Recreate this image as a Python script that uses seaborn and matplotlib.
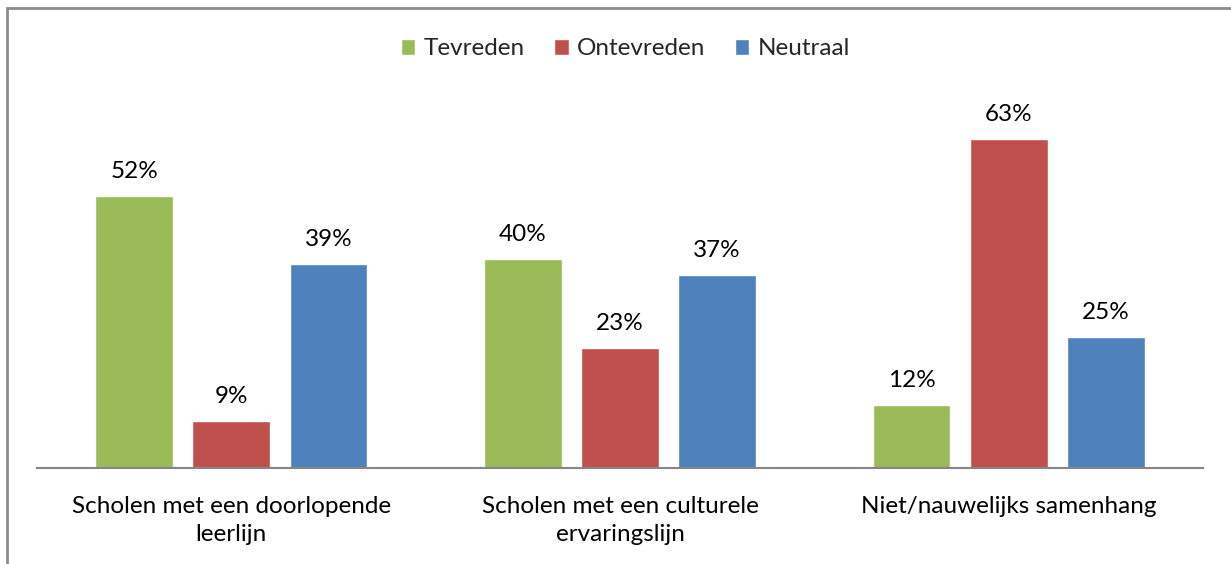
import matplotlib
matplotlib.use("Agg")
import matplotlib.pyplot as plt
from matplotlib.patches import Rectangle
import seaborn as sns
import pandas as pd

categories = ["Scholen met een doorlopende\nleerlijn",
              "Scholen met een culturele\nervaringslijn",
              "Niet/nauwelijks samenhang"]
series = ["Tevreden", "Ontevreden", "Neutraal"]
tevreden = [52, 40, 12]
ontevreden = [9, 23, 63]
neutraal = [39, 37, 25]
colors = ["#9BBB59", "#C0504D", "#4F81BD"]

rows = []
for name, vals in zip(series, [tevreden, ontevreden, neutraal]):
    for cat, v in zip(categories, vals):
        rows.append({"categorie": cat, "reeks": name, "waarde": v})
df = pd.DataFrame(rows)

sns.set_theme(style="white")
plt.rcParams["font.family"] = ["Lato", "DejaVu Sans"]
FS = 17.5

fig = plt.figure(figsize=(12.31, 5.64), dpi=100)
ax = fig.add_axes([37 / 1231, 1 - 468 / 564, (1203 - 37) / 1231, (468 - 102) / 564])

sns.barplot(data=df, x="categorie", y="waarde", hue="reeks",
            order=categories, hue_order=series, palette=colors,
            width=0.75, gap=0.2, saturation=1, ax=ax, legend=True)

for container in ax.containers:
    ax.bar_label(container, labels=[f"{int(v)}%" for v in container.datavalues],
                 padding=10, fontsize=FS, color="#000000")

ax.set_ylim(0, 70)
ax.set_xlim(-0.5, 2.5)
ax.set_xlabel("")
ax.set_ylabel("")
ax.set_yticks([])
ax.tick_params(axis="x", length=0, pad=20, labelsize=FS, labelcolor="#000000")
for lbl in ax.get_xticklabels():
    lbl.set_multialignment("center")
    lbl.set_linespacing(1.45)
for s in ["top", "right", "left"]:
    ax.spines[s].set_visible(False)
ax.spines["bottom"].set_color("#868686")
ax.spines["bottom"].set_linewidth(1.5)

ax.legend(loc="center", bbox_to_anchor=(0.5 + 10 / 1231, 1 - 49 / 564),
          bbox_transform=fig.transFigure,
          ncol=3, frameon=False, fontsize=FS, handlelength=0.6, handleheight=0.6,
          handletextpad=0.35, columnspacing=1.2)

# outer chart frame
fig.patches.append(Rectangle((7 / 1231, -0.1), 1.2, 1 - 8 / 564 + 0.1,
                             transform=fig.transFigure, fill=False,
                             edgecolor="#8C8C8C", linewidth=2, zorder=-1))

fig.savefig("out.png", dpi=100, facecolor="white")
